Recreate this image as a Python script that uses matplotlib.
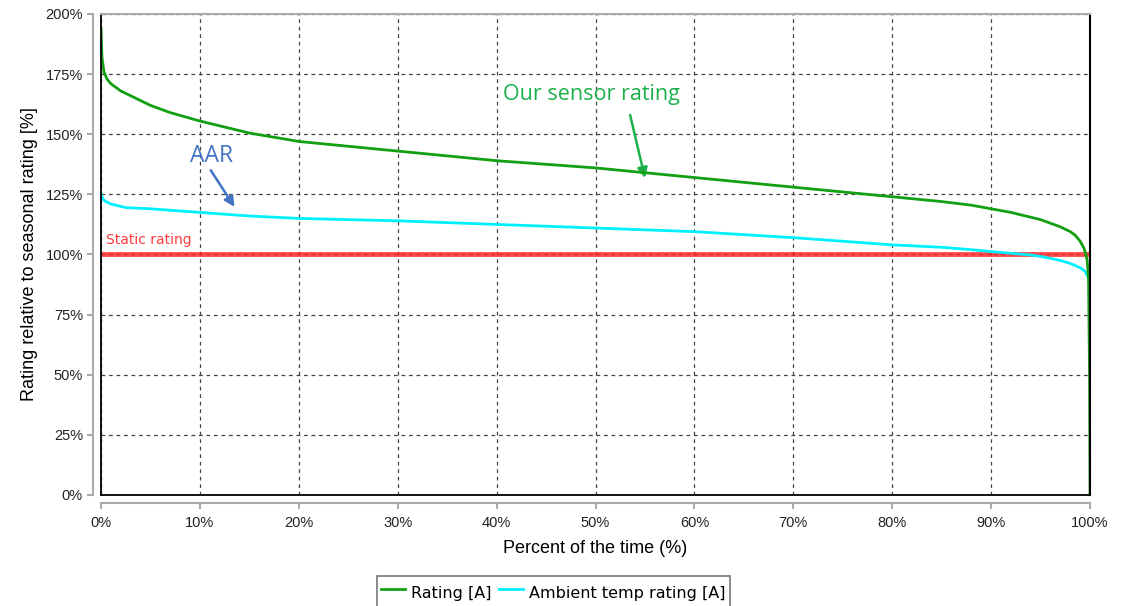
import matplotlib
matplotlib.use("Agg")
import matplotlib.pyplot as plt
from matplotlib.lines import Line2D
from matplotlib.font_manager import FontProperties
import numpy as np

plt.rcParams["font.family"] = ["Liberation Sans", "DejaVu Sans"]

# Percent of time (%)
rating_x = [0, 0.1, 0.3, 0.6, 1, 2, 3, 5, 7, 10, 15, 20, 25, 30, 35, 40, 45, 50, 55, 60, 65, 70, 75,
            80, 85, 88, 90, 92, 94, 95, 96, 97, 98, 98.5, 99, 99.4, 99.7, 99.85, 99.95, 100]
rating_y = [194, 182, 176, 173, 171, 168, 166, 162, 159, 155.5, 150.5, 147, 145, 143, 141, 139, 137.5, 136,
            134, 132, 130, 128, 126, 124, 122, 120.5, 119, 117.5, 115.5, 114.5, 113, 111.5, 109.5, 108,
            105.5, 102.5, 98, 90, 50, 0]

ambient_x = [0, 0.2, 0.5, 1, 2.5, 5, 10, 15, 20, 30, 40, 50, 60, 70, 80, 85, 88, 90, 92, 94, 95, 96, 97,
             98, 99, 99.5, 99.8, 100]
ambient_y = [125, 123, 122, 121, 119.5, 119, 117.5, 116, 115, 114, 112.5, 111, 109.5, 107, 104, 103, 102,
             101.2, 100.5, 99.8, 99.2, 98.4, 97.5, 96.3, 94.5, 93, 90.5, 87]

static_rating = 100

x_ticks = [0, 10, 20, 30, 40, 50, 60, 70, 80, 90, 100]
y_ticks = [0, 25, 50, 75, 100, 125, 150, 175, 200]

fig = plt.figure(figsize=(11.27, 6.06), dpi=100)
ax = fig.add_axes([0.0896, 0.1832, 0.8776, 0.7937])

ax.axhline(static_rating, color="#ff2020", lw=3.5, alpha=0.8, zorder=2)
l1, = ax.plot(rating_x, rating_y, color="#12a012", lw=2, zorder=4, label="Rating [A]")
l2, = ax.plot(ambient_x, ambient_y, color="#00f0ff", lw=2, zorder=3, label="Ambient temp rating [A]")

ax.set_xlim(0, 100)
ax.set_ylim(0, 200)
ax.set_xticks(x_ticks)
ax.set_xticklabels([f"{t}%" for t in x_ticks])
ax.set_yticks(y_ticks)
ax.set_yticklabels([f"{t}%" for t in y_ticks])
ax.tick_params(labelsize=10.5, length=4, width=1.5, color="#aaaaaa", labelcolor="#222222")
ax.tick_params(axis="x", pad=5)
ax.tick_params(axis="y", pad=3)
ax.grid(True, color="#444444", linestyle=(0, (3, 3)), lw=0.9)

for s in ["left", "bottom"]:
    ax.spines[s].set_position(("outward", 6))
    ax.spines[s].set_color("#aaaaaa")
    ax.spines[s].set_linewidth(1.5)
for s in ["top", "right"]:
    ax.spines[s].set_visible(False)

# plot-area frame
frame_kw = dict(transform=ax.transAxes, clip_on=False, zorder=5)
ax.add_line(Line2D([0, 0], [0, 1], color="black", lw=1.3, **frame_kw))
ax.add_line(Line2D([0, 1], [0, 0], color="black", lw=1.3, **frame_kw))
ax.add_line(Line2D([1, 1], [0, 1], color="black", lw=1.5, **frame_kw))
ax.add_line(Line2D([0, 1], [1, 1], color="#aaaaaa", lw=1.5, **frame_kw))

ax.set_xlabel("Percent of the time (%)", fontsize=13, labelpad=7)
ax.set_ylabel("Rating relative to seasonal rating [%]", fontsize=13, labelpad=5)

ax.text(0.5, 103, "Static rating", color="#ff3c3c", fontsize=10, va="bottom", ha="left",
        family="DejaVu Sans")

ax.text(49.6, 166.5, "Our sensor rating", color="#1db04a", fontsize=15.5, ha="center", va="center",
        family="Open Sans")
ax.annotate("", xy=(55.0, 131.8), xytext=(53.5, 158),
            arrowprops=dict(arrowstyle="-|>", color="#1db04a", lw=1.8, mutation_scale=15,
                            shrinkA=0, shrinkB=0))
ax.text(11.2, 141, "AAR", color="#4472c4", fontsize=16.5, ha="center", va="center", family="Open Sans")
ax.annotate("", xy=(13.5, 119.8), xytext=(11.1, 135),
            arrowprops=dict(arrowstyle="-|>", color="#4472c4", lw=1.8, mutation_scale=15,
                            shrinkA=0, shrinkB=0))

leg = fig.legend(handles=[l1, l2], loc="center", bbox_to_anchor=(0.491, 0.022), ncol=2,
                 frameon=True, fancybox=False, edgecolor="#555555",
                 prop=FontProperties(family="DejaVu Sans", size=11.5),
                 handlelength=1.5, handleheight=2.0, handletextpad=0.35, columnspacing=0.5,
                 borderpad=0.3)
leg.get_frame().set_linewidth(1.2)

fig.savefig("out.png", dpi=100)
